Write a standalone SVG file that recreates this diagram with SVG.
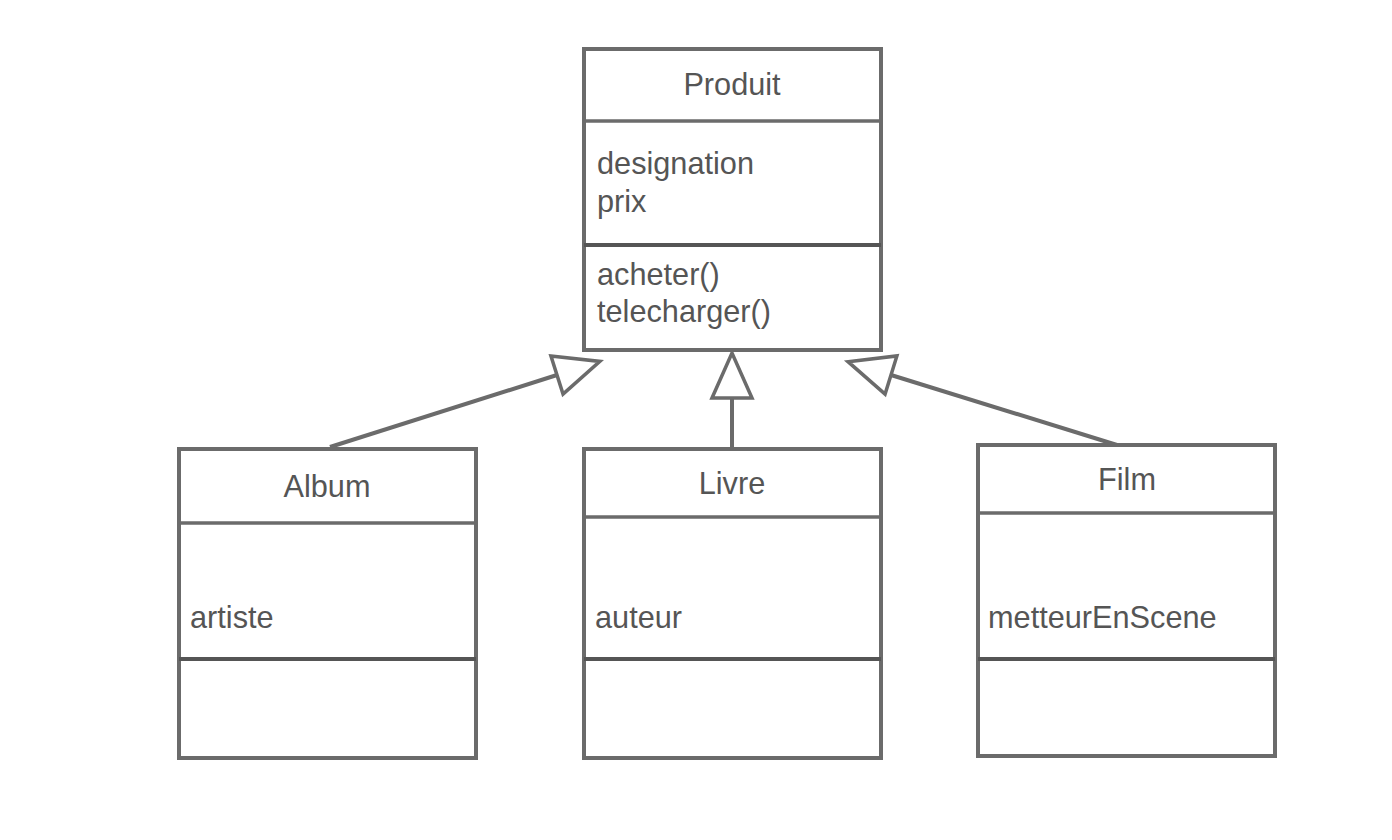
<svg xmlns="http://www.w3.org/2000/svg" width="1392" height="840" viewBox="0 0 1392 840">
<style>
.box{fill:#fff;stroke:#6b6b6b;stroke-width:4}
.div{stroke:#6b6b6b;stroke-width:3.5}
.div2{stroke:#555;stroke-width:4}
.t{font-family:"Liberation Sans",Arial,sans-serif;font-size:30.7px;fill:#555}
.c{text-anchor:middle}
.edge{stroke:#6b6b6b;stroke-width:4;fill:none}
</style>
<defs>
<marker id="gen" markerUnits="userSpaceOnUse" orient="auto" refX="0" refY="0" viewBox="-3 -23 51 46" markerWidth="51" markerHeight="46" overflow="visible">
<path d="M0,-20 L45,0 L0,20 Z" fill="#fff" stroke="#6b6b6b" stroke-width="3.5" stroke-linejoin="miter"/>
</marker>
</defs>
<rect width="1392" height="840" fill="#fff"/>
<g id="connectors">
<line class="edge" x1="330" y1="447" x2="557" y2="375" marker-end="url(#gen)"/>
<line class="edge" x1="732" y1="447" x2="732" y2="398" marker-end="url(#gen)"/>
<line class="edge" x1="1117" y1="445" x2="891" y2="375" marker-end="url(#gen)"/>
</g>
<g id="Produit">
<rect class="box" x="584" y="49" width="297" height="301"/>
<line class="div" x1="584" y1="121" x2="881" y2="121"/>
<line class="div2" x1="584" y1="245" x2="881" y2="245"/>
<text class="t c" x="732" y="95">Produit</text>
<text class="t" x="597" y="174">designation</text>
<text class="t" x="597" y="212">prix</text>
<text class="t" x="597" y="285">acheter()</text>
<text class="t" x="597" y="322">telecharger()</text>
</g>
<g id="Album">
<rect class="box" x="179" y="449" width="297" height="309"/>
<line class="div" x1="179" y1="523" x2="476" y2="523"/>
<line class="div2" x1="179" y1="659" x2="476" y2="659"/>
<text class="t c" x="327" y="497">Album</text>
<text class="t" x="190" y="628">artiste</text>
</g>
<g id="Livre">
<rect class="box" x="584" y="449" width="297" height="309"/>
<line class="div" x1="584" y1="517" x2="881" y2="517"/>
<line class="div2" x1="584" y1="659" x2="881" y2="659"/>
<text class="t c" x="732" y="494">Livre</text>
<text class="t" x="595" y="628">auteur</text>
</g>
<g id="Film">
<rect class="box" x="978" y="445" width="297" height="311"/>
<line class="div" x1="978" y1="513" x2="1275" y2="513"/>
<line class="div2" x1="978" y1="659" x2="1275" y2="659"/>
<text class="t c" x="1127" y="490">Film</text>
<text class="t" x="988" y="628">metteurEnScene</text>
</g>
</svg>
